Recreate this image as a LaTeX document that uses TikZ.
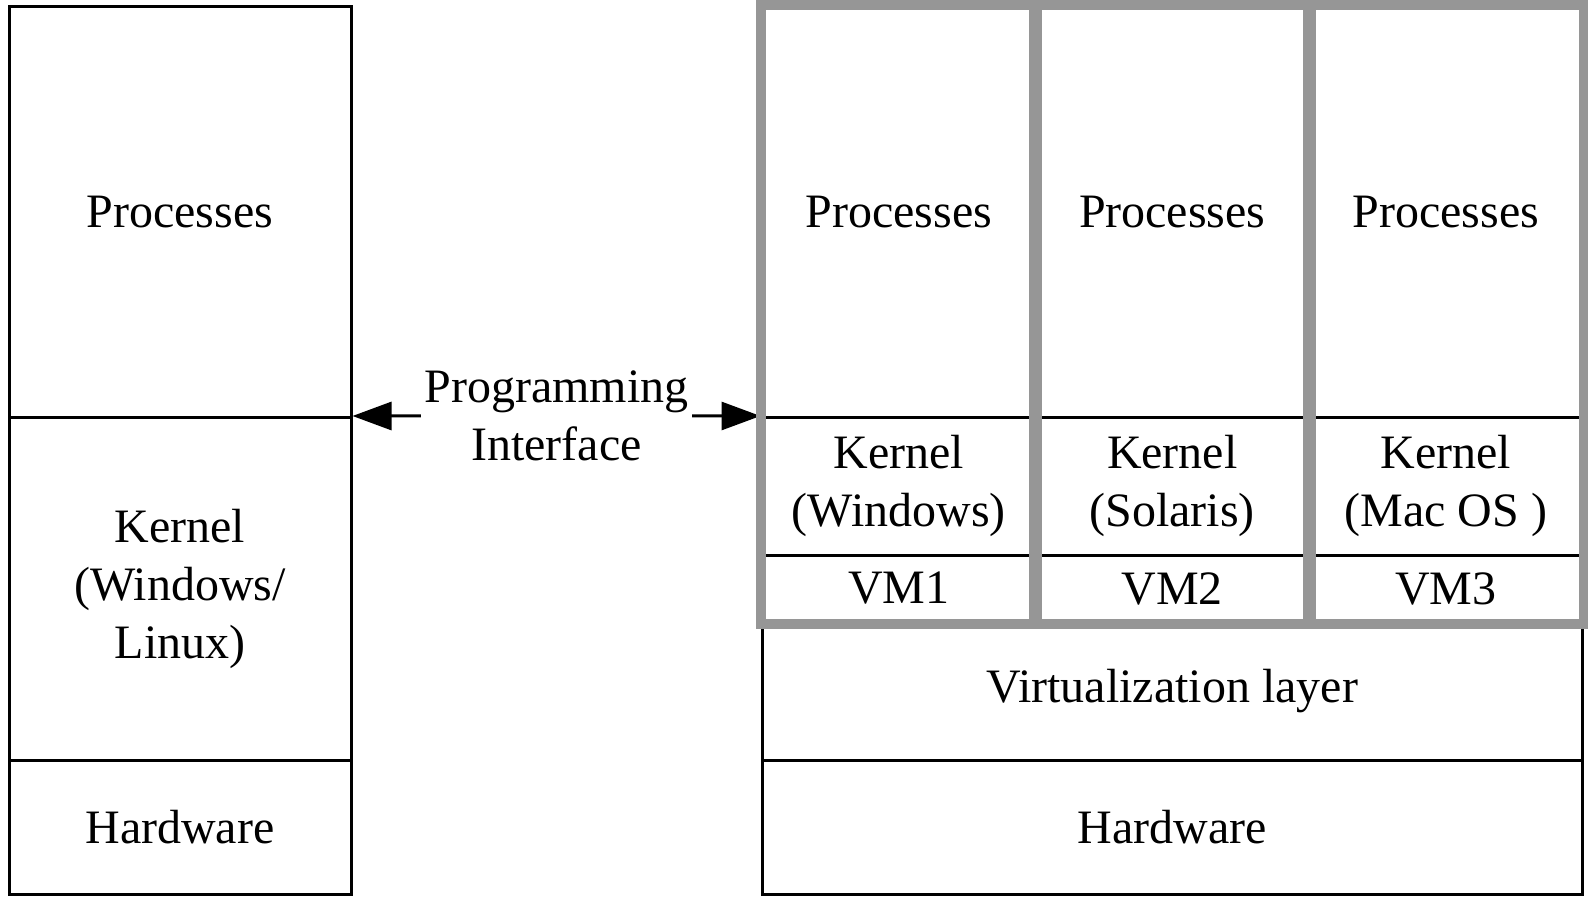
\documentclass[tikz,border=0pt]{standalone}
\usepackage{fontspec}
\setmainfont{Liberation Serif}
\usetikzlibrary{arrows.meta, positioning}

\definecolor{vmgrey}{RGB}{150,150,150}

\begin{document}
\begin{tikzpicture}[
		every node/.style={font=\fontsize{27.3}{33}\selectfont, align=center, inner sep=0pt},
		layer/.style={draw=black, line width=0.06cm, minimum width=#1},
		vmframe/.style={draw=vmgrey, line width=0.2cm},
		arrow/.style={{Triangle[length=0.78cm, width=0.56cm]}-{Triangle[length=0.78cm, width=0.56cm]}, line width=0.06cm},
		]
		\useasboundingbox (0,0) rectangle (31.76,17.92);
		
		% Left stack
		\node[layer=6.84cm, minimum height=8.21cm] (procL) at (3.60,13.675) {Processes};
		\node[layer=6.84cm, minimum height=6.85cm] (kernL) at (3.60,6.145) {Kernel\\(Windows/\\Linux)};
		\node[layer=6.84cm, minimum height=2.68cm] (hwL) at (3.60,1.38) {Hardware};
		
		% Virtual machines
		\node[layer=5.47cm, minimum height=8.21cm] (proc1) at (17.975,13.675) {Processes};
		\node[layer=5.47cm, minimum height=8.21cm] (proc2) at (23.445,13.675) {Processes};
		\node[layer=5.47cm, minimum height=8.21cm] (proc3) at (28.915,13.675) {Processes};
		\node[layer=5.47cm, minimum height=2.75cm] (kern1) at (17.975,8.195) {Kernel\\(Windows)};
		\node[layer=5.47cm, minimum height=2.75cm] (kern2) at (23.445,8.195) {Kernel\\(Solaris)};
		\node[layer=5.47cm, minimum height=2.75cm] (kern3) at (28.915,8.195) {Kernel\\(Mac OS )};
		\node[layer=5.47cm, minimum height=1.34cm] (vm1) at (17.975,6.15) {VM1};
		\node[layer=5.47cm, minimum height=1.34cm] (vm2) at (23.445,6.15) {VM2};
		\node[layer=5.47cm, minimum height=1.34cm] (vm3) at (28.915,6.15) {VM3};
		
		% Host side
		\node[layer=16.41cm, minimum height=2.76cm] (virt) at (23.445,4.10) {Virtualization layer};
		\node[layer=16.41cm, minimum height=2.68cm] (hwR) at (23.445,1.38) {Hardware};
		
		% Programming interface
		\draw[arrow] (kernL.north east) -- node[fill=white, inner sep=0.08cm] {Programming\\Interface} (kern1.north west);
		
		% VM frames
		\draw[vmframe] (proc1.north west) rectangle (vm1.south east);
		\draw[vmframe] (proc2.north west) rectangle (vm2.south east);
		\draw[vmframe] (proc3.north west) rectangle (vm3.south east);
		
	\end{tikzpicture}
\end{document}
